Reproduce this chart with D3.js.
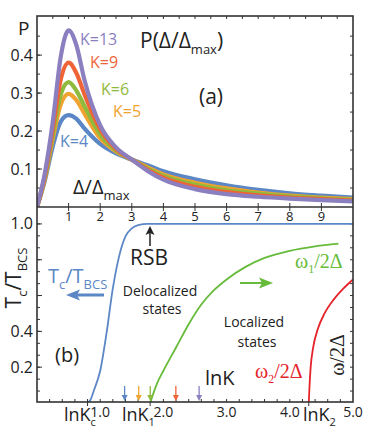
<!DOCTYPE html>
<meta charset="utf-8">
<script src="https://d3js.org/d3.v7.min.js"></script>
<style>
  body { margin: 0; background: #fff; }
  svg text { font-family: "Open Sans", sans-serif; fill: #222; }
  svg text.serif { font-family: "Liberation Serif", "DejaVu Serif", serif; }
</style>
<body>
<div id="chart"></div>
<script>
// ---- panel (a): distribution P(Δ/Δmax) for several K
var ratio = [0, 0.25, 0.5, 0.75, 1, 1.25, 1.5, 2, 2.5, 3, 3.5, 4, 5, 6, 7, 8, 9, 10];
var pK4  = [0, 0.07, 0.16, 0.225, 0.242, 0.232, 0.207, 0.166, 0.141, 0.125, 0.11, 0.094, 0.073, 0.057, 0.045, 0.036, 0.03, 0.025];
var pK5  = [0, 0.075, 0.18, 0.27, 0.298, 0.281, 0.246, 0.181, 0.146, 0.125, 0.104, 0.086, 0.064, 0.049, 0.038, 0.03, 0.025, 0.021];
var pK6  = [0, 0.078, 0.19, 0.296, 0.329, 0.306, 0.266, 0.191, 0.149, 0.125, 0.101, 0.082, 0.059, 0.044, 0.035, 0.028, 0.023, 0.019];
var pK9  = [0, 0.083, 0.205, 0.335, 0.38, 0.352, 0.297, 0.205, 0.153, 0.125, 0.098, 0.077, 0.053, 0.039, 0.031, 0.025, 0.021, 0.017];
var pK13 = [0, 0.09, 0.225, 0.395, 0.465, 0.425, 0.335, 0.215, 0.157, 0.125, 0.095, 0.072, 0.047, 0.034, 0.027, 0.022, 0.018, 0.015];
var kNames  = ["K=4", "K=5", "K=6", "K=9", "K=13"];
var kValues = [4, 5, 6, 9, 13];
var kColors = ["#5b87c6", "#f0a330", "#8fba3c", "#ef6437", "#8b7fbf"];
var kLabelPos = [[60, 147], [113, 117], [101, 95], [90, 68], [80, 45]];
var xTicksA = [1, 2, 3, 4, 5, 6, 7, 8, 9];
var yTicksA = [0.1, 0.2, 0.3, 0.4];

// ---- panel (b): Tc and excitation gaps vs lnK
var lnKTc = [0.8, 0.85, 0.9, 1.0, 1.1, 1.2, 1.3, 1.4, 1.5, 1.6, 1.75, 2.0, 3.0, 4.0, 5.0];
var tc    = [0, 0.02, 0.07, 0.18, 0.39, 0.64, 0.82, 0.93, 0.975, 0.993, 1.0, 1.0, 1.0, 1.0, 1.0];
var lnKW1 = [1.79, 1.9, 2.0, 2.2, 2.4, 2.6, 2.8, 3.0, 3.3, 3.6, 4.0, 4.4, 4.77];
var w1    = [0, 0.11, 0.18, 0.31, 0.44, 0.55, 0.63, 0.69, 0.76, 0.81, 0.85, 0.875, 0.89];
var lnKW2 = [4.3, 4.31, 4.33, 4.37, 4.45, 4.55, 4.7, 4.85, 5.0];
var w2    = [0, 0.08, 0.2, 0.31, 0.42, 0.5, 0.58, 0.64, 0.69];
var xTicksB = [1.0, 2.0, 3.0, 4.0, 5.0];
var yTicksB = [0.2, 0.4, 1.0];
var lnKMarks = [["c", 0.8], ["1", 1.79], ["2", 4.3]];

var W = 373, H = 431;
var left = 37, right = 353, topA = 16, midY = 207, botB = 402;

var svg = d3.select("#chart").append("svg")
  .attr("width", W).attr("height", H);

var xA = d3.scaleLinear().domain([0, 10]).range([left, right]);
var yA = d3.scaleLinear().domain([0, 0.503]).range([midY, topA]);
var xB = d3.scaleLinear().domain([0, 5]).range([left, right]);
var yB = d3.scaleLinear().domain([0, 1.0944]).range([botB + 1, midY]);

svg.append("clipPath").attr("id", "clipA").append("rect")
  .attr("x", left).attr("y", topA).attr("width", right - left).attr("height", midY - topA);
svg.append("clipPath").attr("id", "clipB").append("rect")
  .attr("x", left).attr("y", midY).attr("width", right - left).attr("height", botB - midY);

// ---- ticks
var tk = svg.append("g").attr("stroke", "#333").attr("stroke-width", 1);
function hTicks(vals, scale, x0, dir, len) {
  tk.selectAll(null).data(vals).enter().append("line")
    .attr("x1", x0).attr("x2", x0 + dir * len)
    .attr("y1", d => scale(d)).attr("y2", d => scale(d));
}
function vTicks(vals, scale, y0, dir, len) {
  tk.selectAll(null).data(vals).enter().append("line")
    .attr("y1", y0).attr("y2", y0 + dir * len)
    .attr("x1", d => scale(d)).attr("x2", d => scale(d));
}
var minorA = d3.range(0.05, 0.5, 0.05);
hTicks(minorA, yA, left, 1, 3);
hTicks(yTicksA, yA, left, 1, 5);
hTicks(minorA, yA, right, -1, 3);
vTicks(d3.range(0.5, 10, 0.5), xA, topA, 1, 3);
vTicks(xTicksA, xA, midY, -1, 4);
vTicks(xTicksA, xA, midY, 1, 4);
var minorB = d3.range(1, 16).map(i => i * 0.2 / 3);
hTicks(minorB, yB, left, 1, 3);
hTicks([0.2, 0.4, 0.6, 0.8, 1.0], yB, left, 1, 5);
hTicks(minorB, yB, right, -1, 3);
vTicks(d3.range(0.2, 5, 0.2), xB, botB, -1, 3);
vTicks(lnKMarks.map(d => d[1]), xB, botB, 1, 4);

// ---- panel (a) curves
var lineA = d3.line().x(d => xA(d[0])).y(d => yA(d[1])).curve(d3.curveMonotoneX);
var seriesA = [pK4, pK5, pK6, pK9, pK13];
svg.append("g").attr("clip-path", "url(#clipA)")
  .selectAll("path").data(seriesA).enter().append("path")
  .attr("d", s => lineA(ratio.map((r, i) => [r, s[i]])))
  .attr("fill", "none")
  .attr("stroke", (s, i) => kColors[i])
  .attr("stroke-width", 4.2)
  .attr("stroke-linejoin", "round");

svg.selectAll(null).data(kNames).enter().append("text")
  .attr("x", (d, i) => kLabelPos[i][0]).attr("y", (d, i) => kLabelPos[i][1])
  .style("font-size", "16px")
  .style("fill", (d, i) => kColors[i])
  .text(d => d);

// ---- panel (b) curves
var lineB = d3.line().x(d => xB(d[0])).y(d => yB(d[1])).curve(d3.curveMonotoneX);
var gB = svg.append("g").attr("clip-path", "url(#clipB)").attr("fill", "none");
gB.append("path").attr("d", lineB(lnKTc.map((v, i) => [v, tc[i]])))
  .attr("stroke", "#5b87c6").attr("stroke-width", 1.8);
gB.append("path").attr("d", lineB(lnKW1.map((v, i) => [v, w1[i]])))
  .attr("stroke", "#66bb3a").attr("stroke-width", 1.8);
gB.append("path").attr("d", lineB(lnKW2.map((v, i) => [v, w2[i]])))
  .attr("stroke", "#e4232a").attr("stroke-width", 1.8);

// small arrows at ln K for each K
var arr = svg.append("g");
kValues.forEach(function(k, i) {
  var x = xB(Math.log(k));
  arr.append("line").attr("x1", x).attr("x2", x).attr("y1", 386).attr("y2", 397)
    .attr("stroke", kColors[i]).attr("stroke-width", 1.3);
  arr.append("path").attr("d", `M${x - 3},395 L${x},401 L${x + 3},395 Z`).attr("fill", kColors[i]);
});

// ---- frame
svg.append("rect").attr("x", left).attr("y", topA)
  .attr("width", right - left).attr("height", botB - topA)
  .attr("fill", "none").attr("stroke", "#333").attr("stroke-width", 1.6);
svg.append("line").attr("x1", left).attr("x2", right).attr("y1", midY).attr("y2", midY)
  .attr("stroke", "#333").attr("stroke-width", 1.6);

// ---- tick labels
svg.selectAll(null).data(yTicksA).enter().append("text")
  .attr("x", 33).attr("y", d => yA(d) + 5.5).attr("text-anchor", "end")
  .style("font-size", "16px").text(d3.format(".1f"));
svg.selectAll(null).data(xTicksA).enter().append("text")
  .attr("x", d => xA(d)).attr("y", 221).attr("text-anchor", "middle")
  .style("font-size", "13px").text(d => d);
svg.selectAll(null).data(yTicksB).enter().append("text")
  .attr("x", 33).attr("y", d => yB(d) + 5.5).attr("text-anchor", "end")
  .style("font-size", "16px").text(d3.format(".1f"));
svg.selectAll(null).data(xTicksB).enter().append("text")
  .attr("x", d => xB(d)).attr("y", 417).attr("text-anchor", "middle")
  .style("font-size", "14px").text(d3.format(".1f"));
var lnKLabelX = [64, 122, 303];
lnKMarks.forEach(function(m, i) {
  var t = svg.append("text").attr("x", lnKLabelX[i]).attr("y", 421).style("font-size", "18px");
  t.append("tspan").text("lnK");
  t.append("tspan").attr("dy", 5).style("font-size", "11px").text(m[0]);
});

// ---- annotations panel (a)
svg.append("text").attr("x", 18).attr("y", 35).style("font-size", "19px").text("P");
var t1 = svg.append("text").attr("x", 140).attr("y", 48).style("font-size", "21px");
t1.append("tspan").text("P(Δ/Δ");
t1.append("tspan").attr("dy", 6).style("font-size", "13px").text("max");
t1.append("tspan").attr("dy", -6).text(")");
svg.append("text").attr("x", 199).attr("y", 104).style("font-size", "21px").text("(a)");
var t2 = svg.append("text").attr("x", 73).attr("y", 194).style("font-size", "20px");
t2.append("tspan").text("Δ/Δ");
t2.append("tspan").attr("dy", 6).style("font-size", "13px").text("max");

// ---- annotations panel (b)
var yl = svg.append("text").attr("transform", "translate(21,278) rotate(-90)")
  .attr("text-anchor", "middle").style("font-size", "21px");
yl.append("tspan").text("T");
yl.append("tspan").attr("dy", 6).style("font-size", "13px").text("c");
yl.append("tspan").attr("dy", -6).text("/T");
yl.append("tspan").attr("dy", 6).style("font-size", "13px").text("BCS");

var bl = svg.append("text").attr("x", 48).attr("y", 283).style("font-size", "20px").style("fill", "#5b87c6");
bl.append("tspan").text("T");
bl.append("tspan").attr("dy", 6).style("font-size", "13px").text("c");
bl.append("tspan").attr("dy", -6).text("/T");
bl.append("tspan").attr("dy", 6).style("font-size", "13px").text("BCS");
svg.append("line").attr("x1", 104).attr("x2", 76).attr("y1", 295).attr("y2", 295)
  .attr("stroke", "#5b87c6").attr("stroke-width", 3);
svg.append("path").attr("d", "M66,295 L80,289.5 L77,295 L80,300.5 Z").attr("fill", "#5b87c6");

svg.append("line").attr("x1", 150).attr("x2", 150).attr("y1", 246).attr("y2", 231)
  .attr("stroke", "#222").attr("stroke-width", 1.5);
svg.append("path").attr("d", "M150,226 L145.5,235 L150,233 L154.5,235 Z").attr("fill", "#222");
svg.append("text").attr("x", 130).attr("y", 265).style("font-size", "21px").text("RSB");

svg.append("text").attr("x", 160).attr("y", 296).attr("text-anchor", "middle")
  .style("font-size", "14px").text("Delocalized");
svg.append("text").attr("x", 162).attr("y", 314).attr("text-anchor", "middle")
  .style("font-size", "14px").text("states");
svg.append("text").attr("x", 254).attr("y", 327).attr("text-anchor", "middle")
  .style("font-size", "14px").text("Localized");
svg.append("text").attr("x", 257).attr("y", 347).attr("text-anchor", "middle")
  .style("font-size", "14px").text("states");
svg.append("text").attr("x", 55).attr("y", 362).style("font-size", "20px").text("(b)");
svg.append("text").attr("x", 205).attr("y", 385).style("font-size", "20px").text("lnK");

var g1 = svg.append("text").attr("class", "serif").attr("x", 295).attr("y", 268)
  .style("font-size", "20px").style("fill", "#66bb3a");
g1.append("tspan").text("ω");
g1.append("tspan").attr("dy", 5).style("font-size", "12px").text("1");
g1.append("tspan").attr("dy", -5).text("/2Δ");
svg.append("line").attr("x1", 240).attr("x2", 262).attr("y1", 283).attr("y2", 283)
  .attr("stroke", "#66bb3a").attr("stroke-width", 2);
svg.append("path").attr("d", "M273,283 L259,277.5 L262,283 L259,288.5 Z").attr("fill", "#66bb3a");

var g2 = svg.append("text").attr("class", "serif").attr("x", 255).attr("y", 378)
  .style("font-size", "20px").style("fill", "#e4232a");
g2.append("tspan").text("ω");
g2.append("tspan").attr("dy", 5).style("font-size", "12px").text("2");
g2.append("tspan").attr("dy", -5).text("/2Δ");

svg.append("text").attr("class", "serif").attr("transform", "translate(344,355) rotate(-90)")
  .attr("text-anchor", "middle").style("font-size", "20px").text("ω/2Δ");
</script>
</body>
